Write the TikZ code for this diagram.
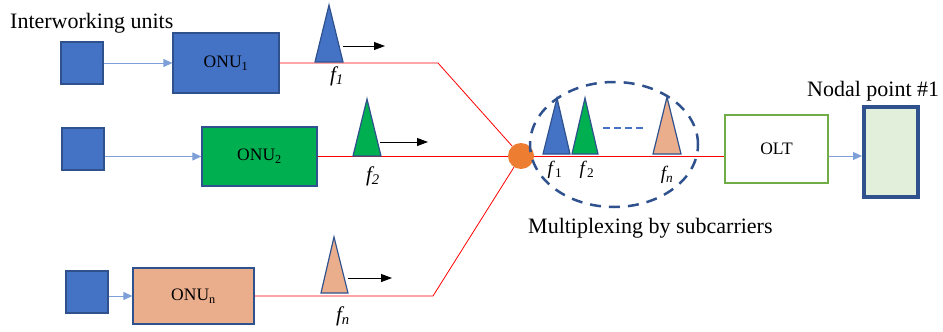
\documentclass[tikz,border=0pt]{standalone}
\usepackage{fontspec}
\setmainfont{Liberation Serif}
\usetikzlibrary{positioning, calc, arrows.meta, shapes.geometric}

\definecolor{unitblue}{HTML}{4472C4}
\definecolor{edgeblue}{HTML}{2F528F}
\definecolor{onugreen}{HTML}{00B050}
\definecolor{onupeach}{HTML}{EBAE8D}
\definecolor{splitorange}{HTML}{ED7D31}
\definecolor{oltgreen}{HTML}{70AD47}
\definecolor{nodefill}{HTML}{E2EFDA}
\definecolor{feedblue}{HTML}{7F9FD8}

\begin{document}
\begin{tikzpicture}[
    x=1pt, y=-1pt,
    unit/.style={draw=edgeblue, fill=unitblue, line width=1.2pt, minimum size=42pt, inner sep=0pt},
    onu/.style={draw=edgeblue, line width=1.2pt, inner sep=0pt, font=\fontsize{17.5}{19}\selectfont},
    feed/.style={-{Triangle[length=9pt,width=8pt]}, draw=feedblue, fill=unitblue, line width=1pt},
    fiber/.style={draw=red, line width=0.8pt},
    spike/.style={draw=edgeblue, line width=1.2pt},
    shiftarrow/.style={-{Triangle[length=11pt,width=8pt]}, line width=0.9pt},
    label/.style={font=\fontsize{22}{26}\selectfont},
    flabel/.style={font=\fontsize{21}{24}\selectfont},
    fsmall/.style={font=\fontsize{19}{22}\selectfont}
]
    \useasboundingbox (0,0) rectangle (943,332);

    % Interworking units and ONUs
    \node[unit] (U1) at (82,63) {};
    \node[unit] (U2) at (83,149) {};
    \node[unit] (U3) at (87,292) {};
    \node[onu, fill=unitblue, minimum width=106pt, minimum height=60pt] (ONU1) at (226,63) {ONU\textsubscript{1}};
    \node[onu, fill=onugreen, minimum width=115pt, minimum height=59pt] (ONU2) at (259.5,156.5) {ONU\textsubscript{2}};
    \node[onu, fill=onupeach, minimum width=121pt, minimum height=56pt] (ONU3) at (193.5,296) {ONU\textsubscript{n}};

    \draw[feed] (U1.east |- ONU1.west) -- (ONU1.west);
    \draw[feed] (U2.east |- ONU2.west) -- (ONU2.west);
    \draw[feed] (U3.east |- ONU3.west) -- (ONU3.west);

    % Splitter, OLT and nodal point
    \node[circle, fill=splitorange, minimum size=26pt, inner sep=0pt] (split) at (521,156) {};
    \node[draw=oltgreen, line width=1.5pt, minimum width=103pt, minimum height=68pt, font=\fontsize{17.5}{19}\selectfont] (OLT) at (776.5,149) {OLT};
    \node[draw=edgeblue, line width=4pt, fill=nodefill, minimum width=54pt, minimum height=90pt] (nodal) at (891,152) {};

    % Fibers
    \coordinate (bend1) at (438,63);
    \coordinate (bend3) at (433,296);
    \draw[fiber] (ONU1.east) -- (bend1) -- (split);
    \draw[fiber] (ONU2.east |- split) -- (split);
    \draw[fiber] (ONU3.east) -- (bend3) -- (split);
    \draw[fiber] (split) -- (split -| OLT.west);
    \draw[feed] (OLT.east |- split) -- (nodal.west |- split);

    % Subcarriers on each branch
    \draw[spike, fill=unitblue] (315,62) -- (329,5) -- (343,62) -- cycle;
    \draw[spike, fill=onugreen] (353,156) -- (367,99) -- (381,156) -- cycle;
    \draw[spike, fill=onupeach] (321,293) -- (334,237) -- (348,293) -- cycle;

    \coordinate (s1a) at (343,46);  \coordinate (s1b) at (385,46);
    \coordinate (s2a) at (380,142); \coordinate (s2b) at (428,142);
    \coordinate (s3a) at (348,278); \coordinate (s3b) at (392,278);
    \draw[shiftarrow] (s1a) -- (s1b);
    \draw[shiftarrow] (s2a) -- (s2b);
    \draw[shiftarrow] (s3a) -- (s3b);

    \node[flabel] (f1) at (337,76) {\textit{f\textsubscript{1}}};
    \node[flabel] (f2) at (373,176) {\textit{f\textsubscript{2}}};
    \node[flabel] (fn) at (343,316) {\textit{f\textsubscript{n}}};

    % Multiplexed subcarriers
    \node[ellipse, draw=edgeblue, line width=2.5pt, dash pattern=on 11pt off 8pt, minimum width=168pt, minimum height=125pt] (mux) at (614,144.5) {};
    \draw[spike, fill=unitblue] (543,154) -- (557,98) -- (570,154) -- cycle;
    \draw[spike, fill=onugreen] (572,154) -- (585,98) -- (598,154) -- cycle;
    \draw[spike, fill=onupeach] (653,154) -- (667,97) -- (681,154) -- cycle;
    \coordinate (dots1) at (603,128); \coordinate (dots2) at (646,128);
    \draw[draw=unitblue, line width=2pt, dash pattern=on 7pt off 4pt] (dots1) -- (dots2);

    \node[fsmall] (m1) at (555,170) {\textit{f}\textsubscript{1}};
    \node[fsmall] (m2) at (587,170) {\textit{f}\textsubscript{2}};
    \node[fsmall] (mn) at (667,175) {\textit{f\textsubscript{n}}};

    % Annotations
    \node[label, anchor=base west, inner sep=0pt] (iwu) at (10,28) {Interworking units};
    \node[label, anchor=base west, inner sep=0pt] (np) at (807,96) {Nodal point \#1};
    \node[label, anchor=base west, inner sep=0pt] (mbs) at (528,233) {Multiplexing by subcarriers};
\end{tikzpicture}
\end{document}
